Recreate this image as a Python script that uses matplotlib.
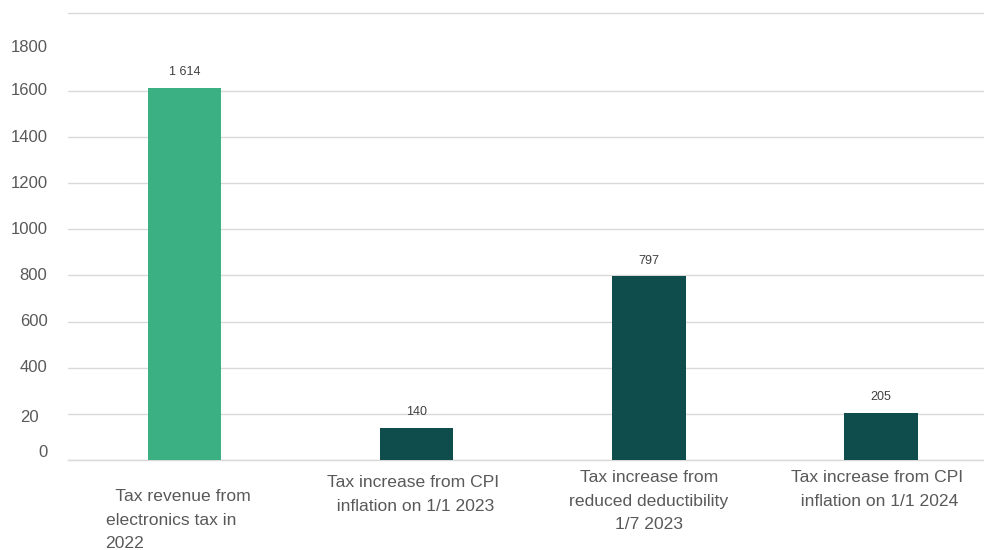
import numpy as np
import matplotlib.pyplot as plt

plt.rcParams['font.family'] = ['Liberation Sans', 'DejaVu Sans']

categories = ["  Tax revenue from\nelectronics tax in\n2022",
              "Tax increase from CPI\n  inflation on 1/1 2023",
              "Tax increase from\nreduced deductibility\n1/7 2023",
              "Tax increase from CPI\n  inflation on 1/1 2024"]
values = [1614, 140, 797, 205]
value_labels = ["1 614", "140", "797", "205"]
bar_colors = ["#3bb183", "#0f4c4c", "#0f4c4c", "#0f4c4c"]

grid_values = [0, 200, 400, 600, 800, 1000, 1200, 1400, 1600]
ytick_labels = ["0", "20", "400", "600", "800", "1000", "1200", "1400", "1600"]
extra_label = "1800"
extra_label_value = 1790
top_line = 1938

# per-label layout tweaks: (x shift in px, drop below axis in px, line alignment)
label_layout = [(-7, 29, "left"), (-4, 15, "left"), (0, 10, "center"), (-4, 10, "left")]

fig = plt.figure(figsize=(9.84, 5.5), dpi=100)
ax = fig.add_axes([68 / 984, 90 / 550, 916 / 984, 450 / 550])

x = np.arange(len(values))
ax.bar(x, values, width=0.315, color=bar_colors, zorder=3)

for xi, v, lab in zip(x, values, value_labels):
    ax.annotate(lab, (xi, v), xytext=(0, 11), textcoords="offset points",
                ha="center", va="center", fontsize=9, color="#404040")

for xi, cat, (dx, dy, ma) in zip(x, categories, label_layout):
    ax.annotate(cat, (xi, 0), xycoords=("data", "axes fraction"),
                xytext=(dx * 0.72, -dy * 0.72), textcoords="offset points",
                ha="center", va="top", multialignment=ma,
                fontsize=12.6, color="#595959", linespacing=1.72)

ax.set_xlim(-0.504, 3.444)
ax.set_ylim(0, 1951)
ax.set_xticks([])

ax.set_yticks(grid_values + [top_line])
ax.set_yticklabels([])
ax.grid(axis="y", color="#d9d9d9", linewidth=1, zorder=0)
ax.axhline(0, color="#d9d9d9", linewidth=1, zorder=2, clip_on=False)
ax.tick_params(axis="y", length=0)

# y labels drawn by hand so each can sit where it does on the axis
ylab_trans = ax.get_yaxis_transform()
for v, lab in zip(grid_values, ytick_labels):
    xr = -0.0225 if lab != "20" else -0.032
    dy = {"0": 34, "20": -16}.get(lab, 0)
    ax.text(xr, v + dy, lab, transform=ylab_trans, ha="right", va="center",
            fontsize=12, color="#595959")
ax.text(-0.0225, extra_label_value, extra_label, transform=ylab_trans,
        ha="right", va="center", fontsize=12, color="#595959")

for s in ax.spines.values():
    s.set_visible(False)

fig.savefig("out.png", dpi=100)
